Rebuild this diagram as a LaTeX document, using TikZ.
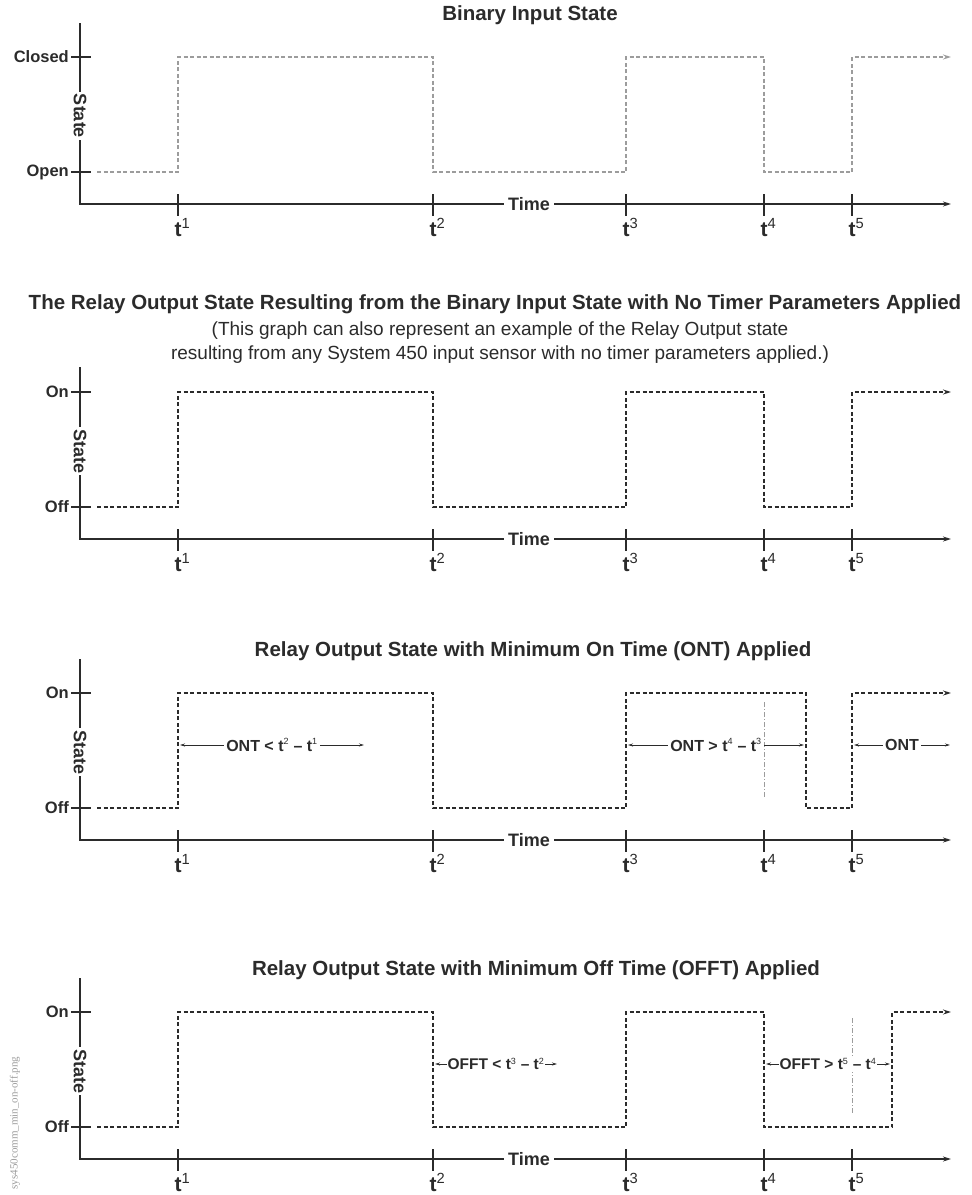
\documentclass[tikz,border=0pt]{standalone}
\usepackage{fontspec}
\setmainfont{Liberation Sans}
\newfontfamily\dateifont{Liberation Serif}
\usetikzlibrary{arrows.meta}
\definecolor{dunkel}{HTML}{2B2B2B}
\definecolor{blass}{HTML}{9C9C9C}
\newcommand\fs[1]{\fontsize{#1}{#1}\selectfont}
\newcommand\hoch[1]{\textsuperscript{\mdseries\fs{9}#1}}

\begin{document}
\begin{tikzpicture}[
    x=1pt, y=-1pt,
    every node/.style={text=dunkel, font=\bfseries\fs{16.5}},
    achse/.style={line width=1.6pt, dunkel},
    signal/.style={line width=1.3pt, dunkel, dash pattern=on 4pt off 2.5pt},
    spitze/.style={-{Stealth[length=8pt,width=5pt]}},
    mass/.style={line width=0.8pt, dunkel,
      {Stealth[length=5pt,width=3pt]}-{Stealth[length=5pt,width=3pt]}},
    marke/.style={line width=0.6pt, blass, dash pattern=on 5pt off 2pt on 1pt off 2pt},
    titel/.style={font=\bfseries\fs{20.5}},
    weiss/.style={fill=white, inner sep=2pt},
  ]
  \useasboundingbox (0,0) rectangle (972,1195);

  % Achsen der vier Diagramme
  \foreach \g/\oy/\top/\hi/\lo in {1/0/23/Closed/Open, 2/335/32/On/Off,
                                    3/636/23/On/Off, 4/955/23/On/Off} {
    \begin{scope}[yshift=-\oy pt]
      \draw[achse, spitze] (80,\top) -- (80,204) -- (951,204);
      \draw[achse] (71,57) -- (91,57);
      \draw[achse] (71,172) -- (91,172);
      \node[anchor=east, inner sep=1pt] (hi\g) at (70,57) {\hi};
      \node[anchor=east, inner sep=1pt] (lo\g) at (70,172) {\lo};
      \node[weiss, rotate=-90, font=\bfseries\fs{18}] (st\g) at (80,116) {State};
      \node[weiss, inner xsep=4pt, font=\bfseries\fs{18}] (zeit\g) at (529,204) {Time};
      \foreach \k/\tx in {1/178, 2/433, 3/626, 4/764, 5/852} {
        \draw[achse] (\tx,194) -- (\tx,216);
        \node[anchor=base west, inner sep=0pt] (t\k-\g) at (\tx-3.5,236)
          {\fs{21}t\textsuperscript{\mdseries\k}};
      }
    \end{scope}
  }

  % Titel
  \node[titel] (titel1) at (530,15) {Binary Input State};
  \node[titel] (titel2) at (495,304)
    {The Relay Output State Resulting from the Binary Input State with No Timer Parameters Applied};
  \node[font=\fs{19}] (hinweis1) at (500,331)
    {(This graph can also represent an example of the Relay Output state};
  \node[font=\fs{19}] (hinweis2) at (500,355)
    {resulting from any System 450 input sensor with no timer parameters applied.)};
  \node[titel] (titel3) at (533,651) {Relay Output State with Minimum On Time (ONT) Applied};
  \node[titel] (titel4) at (536,970) {Relay Output State with Minimum Off Time (OFFT) Applied};

  % Eingang (blass)
  \draw[signal, blass, spitze]
    (97,172) -| (178,57) -| (433,172) -| (626,57) -| (764,172) -| (852,57) -- (951,57);

  % Relais ohne Timer
  \begin{scope}[yshift=-335pt]
    \draw[signal, spitze]
      (97,172) -| (178,57) -| (433,172) -| (626,57) -| (764,172) -| (852,57) -- (951,57);
  \end{scope}

  % Relais mit ONT
  \begin{scope}[yshift=-636pt]
    \draw[signal, spitze]
      (97,172) -| (178,57) -| (433,172) -| (626,57) -| (806,172) -| (852,57) -- (951,57);
    \draw[marke] (764,66) -- (764,161);
    \coordinate (a1) at (180,109);
    \coordinate (b1) at (364,109);
    \coordinate (a2) at (628,109);
    \coordinate (b2) at (804,109);
    \coordinate (a3) at (854,109);
    \coordinate (b3) at (950,109);
    \draw[mass] (a1) -- node[weiss, font=\bfseries\fs{16}] (ont1)
      {ONT < t\hoch{2} -- t\hoch{1}} (b1);
    \draw[mass] (a2) -- node[weiss, font=\bfseries\fs{16}] (ont2)
      {ONT > t\hoch{4} -- t\hoch{3}} (b2);
    \draw[mass] (a3) -- node[weiss, font=\bfseries\fs{16}] (ont3) {ONT} (b3);
  \end{scope}

  % Relais mit OFFT
  \begin{scope}[yshift=-955pt]
    \draw[signal, spitze]
      (97,172) -| (178,57) -| (433,172) -| (626,57) -| (764,172) -| (892,57) -- (951,57);
    \draw[marke] (852,63) -- (852,159);
    \coordinate (c1) at (435,109);
    \coordinate (d1) at (557,109);
    \coordinate (c2) at (766,109);
    \coordinate (d2) at (890,109);
    \draw[mass] (c1) -- node[weiss, inner xsep=1pt, font=\bfseries\fs{15.5}] (offt1)
      {OFFT < t\hoch{3} -- t\hoch{2}} (d1);
    \draw[mass] (c2) -- node[weiss, inner xsep=1pt, font=\bfseries\fs{15.5}] (offt2)
      {OFFT > t\hoch{5} -- t\hoch{4}} (d2);
  \end{scope}

  % Dateiname am Rand
  \node[rotate=90, font=\dateifont\fs{11}, text=blass] (datei) at (15,1123)
    {sys450comm\_min\_on-off.png};
\end{tikzpicture}
\end{document}
